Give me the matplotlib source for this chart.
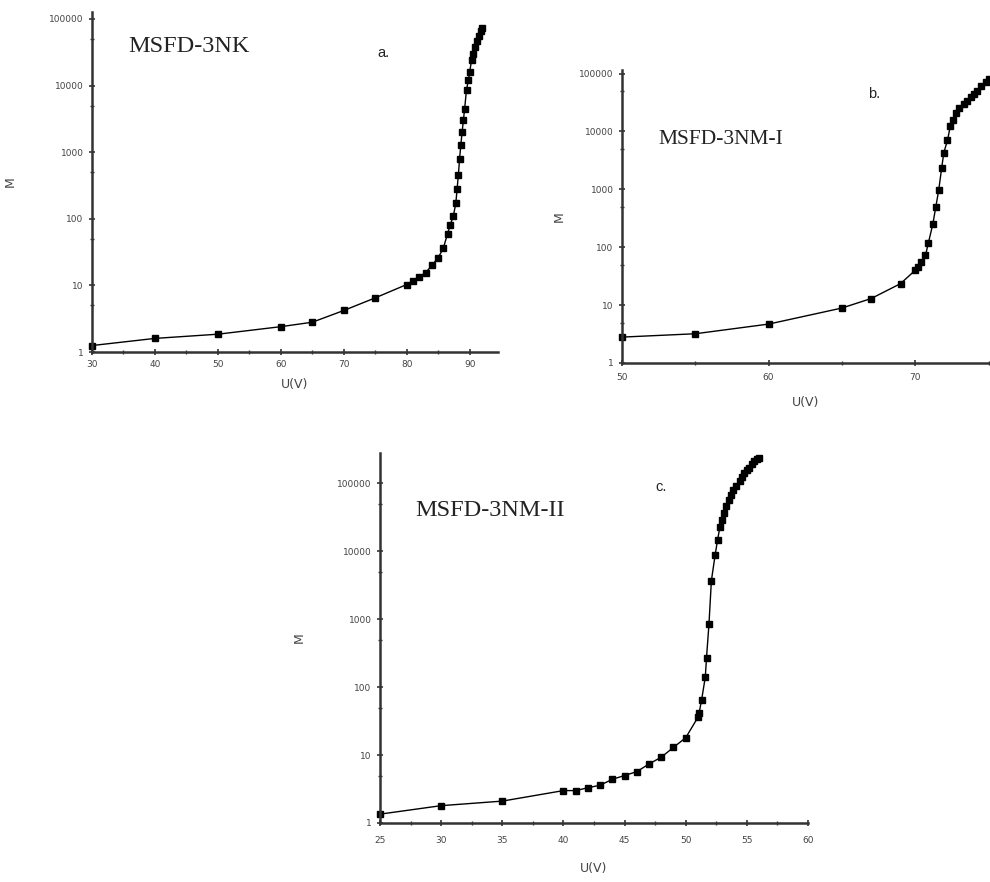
import matplotlib
matplotlib.use("Agg")
import matplotlib.pyplot as plt
from matplotlib.ticker import FixedLocator, NullFormatter, MultipleLocator

# ---- data ----
ua = [30, 40, 50, 60, 65, 70, 75, 80, 81, 82, 83, 84, 85, 85.8, 86.5, 86.9, 87.4, 87.8, 88.0,
      88.2, 88.4, 88.6, 88.8, 89.0, 89.2, 89.5, 89.8, 90.0, 90.3, 90.6, 90.9, 91.2, 91.5, 91.8, 92.0]
ma = [1.25, 1.6, 1.85, 2.4, 2.8, 4.2, 6.5, 10.3, 11.5, 13.5, 15.5, 20, 26, 36, 60, 80, 110, 170, 280,
      450, 800, 1300, 2000, 3000, 4500, 8700, 12000, 16000, 24000, 30000, 38000, 46000, 55000, 65000, 72000]

ub = [50, 55, 60, 65, 67, 69, 70, 70.2, 70.4, 70.7, 70.9, 71.2, 71.4, 71.6, 71.8, 71.95, 72.2, 72.4,
      72.6, 72.8, 73.0, 73.3, 73.5, 73.8, 74.0, 74.2, 74.5, 74.8, 75.0]
mb = [2.8, 3.2, 4.7, 8.9, 13, 23.5, 40, 45, 55, 72, 120, 250, 490, 960, 2300, 4300, 7000, 12600,
      16000, 21000, 25000, 30000, 34000, 40000, 45000, 50000, 60000, 72000, 82000]

uc = [25, 30, 35, 40, 41, 42, 43, 44, 45, 46, 47, 48, 49, 50, 51, 51.1, 51.3, 51.6, 51.7, 51.9, 52.1,
      52.4, 52.6, 52.8, 52.95, 53.1, 53.3, 53.5, 53.7, 53.9, 54.1, 54.4, 54.6, 54.8, 55.0, 55.2, 55.4,
      55.6, 55.8, 56.0]
mc = [1.35, 1.8, 2.1, 3.0, 3.0, 3.3, 3.6, 4.4, 5.0, 5.7, 7.4, 9.3, 13, 18, 36, 42, 65, 140, 270, 840,
      3700, 8700, 14500, 23000, 29000, 37000, 46000, 56000, 67000, 80000, 92000, 110000, 125000,
      140000, 155000, 170000, 190000, 210000, 225000, 240000]

ytick_vals = [1, 10, 100, 1000, 10000, 100000]
ytick_labels = ["1", "10", "100", "1000", "10000", "100000"]

W, H = 990, 882
fig = plt.figure(figsize=(W / 100, H / 100), dpi=100)


def px_axes(l, r, b, t):
    return fig.add_axes([l / W, 1 - b / H, (r - l) / W, (b - t) / H])


def style(ax, xlim, ylim, xmajor, xminor, ylab_x, xpad=3.5, xlabpad=6):
    ax.set_yscale("log")
    ax.set_xlim(*xlim)
    ax.set_ylim(*ylim)
    for s in ("top", "right"):
        ax.spines[s].set_visible(False)
    for s in ("left", "bottom"):
        ax.spines[s].set_linewidth(1.8)
        ax.spines[s].set_color("#333333")
    ax.yaxis.set_major_locator(FixedLocator(ytick_vals))
    ax.set_yticklabels(ytick_labels)
    ax.yaxis.set_minor_locator(FixedLocator([5, 50, 500, 5000, 50000]))
    ax.yaxis.set_minor_formatter(NullFormatter())
    ax.xaxis.set_major_locator(MultipleLocator(xmajor))
    ax.xaxis.set_minor_locator(MultipleLocator(xminor))
    ax.tick_params(which="major", direction="inout", length=5, width=1.2, colors="#333333",
                   labelsize=6.5, labelcolor="#444444")
    ax.tick_params(axis="x", which="major", pad=xpad)
    ax.tick_params(which="minor", direction="inout", length=3, width=1.0, colors="#333333")
    ax.set_xlabel("U(V)", fontsize=9, color="#444444", labelpad=xlabpad)
    ax.set_ylabel("M", fontsize=9, color="#444444")
    ax.yaxis.set_label_coords(ylab_x, 0.5)


def draw(ax, u, m):
    ax.plot(u, m, color="black", lw=1.0, marker="s", ms=5.0, mfc="black", mec="black", clip_on=False)


# panel a
axa = px_axes(92, 498, 352, 12)
style(axa, (30, 94.5), (1, 1.27e5), 10, 5, -0.185)
draw(axa, ua, ma)
fig.text(128 / W, 1 - 47 / H, "MSFD-3NK", family="Liberation Serif", fontsize=17.5,
         va="center", ha="left", color="#222222")
fig.text(377 / W, 1 - 53 / H, "a.", family="Liberation Sans", fontsize=10.5, va="center",
         ha="left", color="#222222")

# panel b
axb = px_axes(622, 990, 363, 70)
style(axb, (50, 75.1), (1, 1.15e5), 10, 5, -0.152, xpad=4.5, xlabpad=10)
draw(axb, ub, mb)
fig.text(658 / W, 1 - 140 / H, "MSFD-3NM-I", family="Liberation Serif", fontsize=15.5,
         va="center", ha="left", color="#222222")
fig.text(868 / W, 1 - 94 / H, "b.", family="Liberation Sans", fontsize=10.5, va="center",
         ha="left", color="#222222")

# panel c
axc = px_axes(380, 808, 823, 453)
style(axc, (25, 60), (1, 2.8e5), 5, 2.5, -0.173, xpad=7, xlabpad=12)
draw(axc, uc, mc)
fig.text(415 / W, 1 - 510 / H, "MSFD-3NM-II", family="Liberation Serif", fontsize=17.5,
         va="center", ha="left", color="#222222")
fig.text(655 / W, 1 - 487 / H, "c.", family="Liberation Sans", fontsize=10.5, va="center",
         ha="left", color="#222222")

fig.savefig("out.png", dpi=100, facecolor="white")
